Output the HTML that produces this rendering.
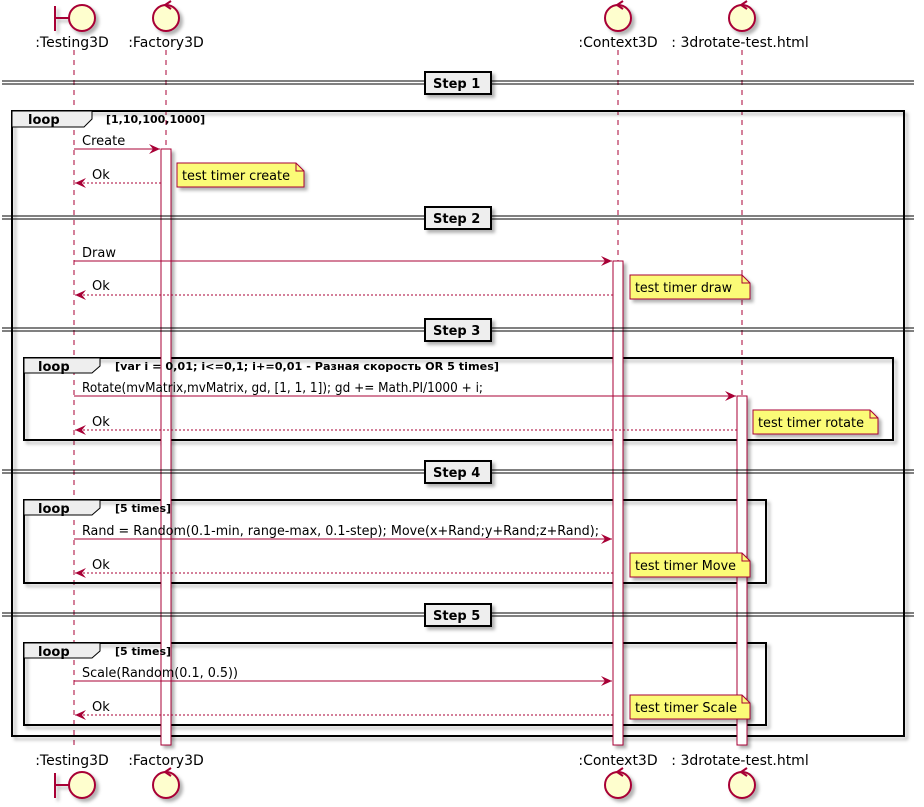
<!DOCTYPE html>
<html><head><meta charset="utf-8"><style>html,body{margin:0;padding:0;background:#fff}svg{display:block}text{font-family:"DejaVu Sans","Liberation Sans",sans-serif}</style></head><body>
<svg width="924" height="807" viewBox="0 0 924 807" xmlns="http://www.w3.org/2000/svg">
<defs>
<filter id="sh" x="-10%" y="-10%" width="130%" height="140%"><feDropShadow dx="3" dy="3" stdDeviation="1.5" flood-color="#000" flood-opacity="0.3"/></filter>
<marker id="ah" markerWidth="12" markerHeight="10" refX="11" refY="5" orient="auto" markerUnits="userSpaceOnUse"><path d="M0,0 L11,5 L0,10 L4,5 Z" fill="#A80036"/></marker>
</defs>
<g stroke="#A80036" stroke-width="1" stroke-dasharray="5,5">
<line x1="74" y1="50" x2="74" y2="750"/>
<line x1="166" y1="50" x2="166" y2="750"/>
<line x1="618" y1="50" x2="618" y2="750"/>
<line x1="742" y1="50" x2="742" y2="750"/>
</g>
<rect x="12" y="111" width="892" height="625" fill="none" stroke="#000" stroke-width="2" filter="url(#sh)"/>
<path d="M12,111 H92 V119 L84,127 H12 Z" fill="#EEEEEE" stroke="#000" stroke-width="1"/>
<text x="28" y="124" font-size="13" font-weight="bold">loop</text>
<text x="106" y="123" font-size="11" font-weight="bold">[1,10,100,1000]</text>
<rect x="24" y="358" width="869" height="82" fill="none" stroke="#000" stroke-width="2" filter="url(#sh)"/>
<path d="M24,358 H100 V366 L92,373 H24 Z" fill="#EEEEEE" stroke="#000" stroke-width="1"/>
<text x="38" y="371" font-size="13" font-weight="bold">loop</text>
<rect x="24" y="500" width="742" height="83" fill="none" stroke="#000" stroke-width="2" filter="url(#sh)"/>
<path d="M24,500 H100 V508 L92,515 H24 Z" fill="#EEEEEE" stroke="#000" stroke-width="1"/>
<text x="38" y="513" font-size="13" font-weight="bold">loop</text>
<rect x="24" y="643" width="742" height="82" fill="none" stroke="#000" stroke-width="2" filter="url(#sh)"/>
<path d="M24,643 H100 V651 L92,658 H24 Z" fill="#EEEEEE" stroke="#000" stroke-width="1"/>
<text x="38" y="656" font-size="13" font-weight="bold">loop</text>
<g fill="#fff" stroke="#A80036" stroke-width="1" filter="url(#sh)">
<rect x="161" y="149" width="10" height="596"/>
<rect x="613" y="261" width="10" height="484"/>
<rect x="737" y="396" width="10" height="349"/>
</g>
<text x="115" y="370" font-size="11" font-weight="bold" textLength="384" lengthAdjust="spacingAndGlyphs">[var i = 0,01; i&lt;=0,1; i+=0,01 - Разная скорость OR 5 times]</text>
<text x="115" y="512" font-size="11" font-weight="bold">[5 times]</text>
<text x="115" y="655" font-size="11" font-weight="bold">[5 times]</text>
<g stroke="#000" stroke-width="1">
<line x1="2" y1="81" x2="914" y2="81"/><line x1="2" y1="84" x2="914" y2="84"/>
<line x1="2" y1="216" x2="914" y2="216"/><line x1="2" y1="219" x2="914" y2="219"/>
<line x1="2" y1="328" x2="914" y2="328"/><line x1="2" y1="331" x2="914" y2="331"/>
<line x1="2" y1="470" x2="914" y2="470"/><line x1="2" y1="473" x2="914" y2="473"/>
<line x1="2" y1="613" x2="914" y2="613"/><line x1="2" y1="616" x2="914" y2="616"/>
</g>
<g fill="#EEEEEE" stroke="#000" stroke-width="2" filter="url(#sh)">
<rect x="425" y="72" width="66" height="22"/>
<rect x="425" y="207" width="66" height="22"/>
<rect x="425" y="319" width="66" height="22"/>
<rect x="425" y="461" width="66" height="22"/>
<rect x="425" y="604" width="66" height="22"/>
</g>
<g font-size="13" font-weight="bold">
<text x="433" y="88">Step 1</text>
<text x="433" y="223">Step 2</text>
<text x="433" y="335">Step 3</text>
<text x="433" y="477">Step 4</text>
<text x="433" y="620">Step 5</text>
</g>
<g stroke="#A80036" stroke-width="1" fill="none">
<line x1="74" y1="149" x2="160" y2="149" marker-end="url(#ah)"/>
<line x1="161" y1="183" x2="75" y2="183" stroke-dasharray="2,2" marker-end="url(#ah)"/>
<line x1="74" y1="261" x2="612" y2="261" marker-end="url(#ah)"/>
<line x1="613" y1="295" x2="75" y2="295" stroke-dasharray="2,2" marker-end="url(#ah)"/>
<line x1="74" y1="396" x2="736" y2="396" marker-end="url(#ah)"/>
<line x1="737" y1="430" x2="75" y2="430" stroke-dasharray="2,2" marker-end="url(#ah)"/>
<line x1="74" y1="539" x2="612" y2="539" marker-end="url(#ah)"/>
<line x1="613" y1="573" x2="75" y2="573" stroke-dasharray="2,2" marker-end="url(#ah)"/>
<line x1="74" y1="681" x2="612" y2="681" marker-end="url(#ah)"/>
<line x1="613" y1="715" x2="75" y2="715" stroke-dasharray="2,2" marker-end="url(#ah)"/>
</g>
<g font-size="13" fill="#000">
<text x="82" y="145">Create</text>
<text x="92" y="290">Ok</text>
<text x="82" y="257">Draw</text>
<text x="92" y="179">Ok</text>
<text x="82" y="392" textLength="401" lengthAdjust="spacingAndGlyphs">Rotate(mvMatrix,mvMatrix, gd, [1, 1, 1]); gd += Math.PI/1000 + i;</text>
<text x="92" y="426">Ok</text>
<text x="82" y="535" textLength="517" lengthAdjust="spacingAndGlyphs">Rand = Random(0.1-min, range-max, 0.1-step); Move(x+Rand;y+Rand;z+Rand);</text>
<text x="92" y="569">Ok</text>
<text x="82" y="677" textLength="156" lengthAdjust="spacingAndGlyphs">Scale(Random(0.1, 0.5))</text>
<text x="92" y="711">Ok</text>
</g>
<g fill="#FBFB77" stroke="#A80036" stroke-width="1" filter="url(#sh)">
<path d="M177,163 H296 L304,171 V187 H177 Z"/>
<path d="M630,275 H742 L750,283 V299 H630 Z"/>
<path d="M753,410 H870 L878,418 V434 H753 Z"/>
<path d="M630,553 H742 L750,561 V577 H630 Z"/>
<path d="M630,695 H742 L750,703 V719 H630 Z"/>
</g>
<g fill="none" stroke="#A80036">
<path d="M296,163 V171 H304"/><path d="M742,275 V283 H750"/><path d="M870,410 V418 H878"/><path d="M742,553 V561 H750"/><path d="M742,695 V703 H750"/>
</g>
<g font-size="13">
<text x="182" y="180" textLength="108" lengthAdjust="spacingAndGlyphs">test timer create</text>
<text x="635" y="292" textLength="97" lengthAdjust="spacingAndGlyphs">test timer draw</text>
<text x="758" y="427" textLength="106" lengthAdjust="spacingAndGlyphs">test timer rotate</text>
<text x="635" y="570" textLength="101" lengthAdjust="spacingAndGlyphs">test timer Move</text>
<text x="635" y="712" textLength="102" lengthAdjust="spacingAndGlyphs">test timer Scale</text>
</g>
<g font-size="14" fill="#000" text-anchor="middle">
<text x="72" y="47">:Testing3D</text><text x="166" y="47">:Factory3D</text><text x="618" y="47">:Context3D</text><text x="740" y="47">: 3drotate-test.html</text>
<text x="72" y="765">:Testing3D</text><text x="166" y="765">:Factory3D</text><text x="618" y="765">:Context3D</text><text x="740" y="765">: 3drotate-test.html</text>
</g>
<g fill="#FEFECE" stroke="#A80036" stroke-width="2" filter="url(#sh)">
<line x1="55" y1="6" x2="55" y2="31"/><line x1="55" y1="18" x2="69" y2="18"/><circle cx="82" cy="18" r="13"/>
<circle cx="166" cy="18" r="13"/><circle cx="618" cy="18" r="13"/><circle cx="742" cy="18" r="13"/>
<line x1="55" y1="773" x2="55" y2="798"/><line x1="55" y1="785" x2="69" y2="785"/><circle cx="82" cy="785" r="13"/>
<circle cx="166" cy="785" r="13"/><circle cx="618" cy="785" r="13"/><circle cx="742" cy="785" r="13"/>
</g>
<g fill="none" stroke="#A80036" stroke-width="2">
<path d="M171,1 L165,5 L171,9"/><path d="M623,1 L617,5 L623,9"/><path d="M747,1 L741,5 L747,9"/>
<path d="M171,768 L165,772 L171,776"/><path d="M623,768 L617,772 L623,776"/><path d="M747,768 L741,772 L747,776"/>
</g>
</svg>
</body></html>
